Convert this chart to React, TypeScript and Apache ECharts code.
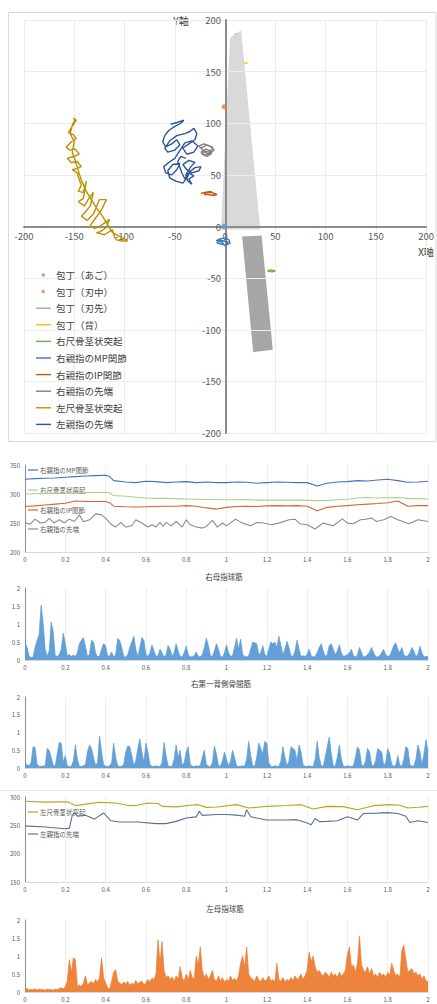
import React, { useEffect, useRef } from "react";
import * as echarts from "echarts";

const FONT = '"Noto Sans CJK JP", "Noto Sans", sans-serif';

// ---------- Top chart: XY trajectories ----------
const knifeHeel = [[-1, 0]];
const knifeMid = [[-1, 116]];
const knifeTip = [[10, 186], [11, 187]];
const knifeBack = [[18, 158], [23, 158.5]];
const rightUlna = [[42, -43], [45, -42], [48, -42.5], [50, -43], [47, -44], [44, -43.5], [42, -43]];
const rightThumbMP = [[-9, -14], [-5, -12], [0, -11], [4, -13], [5, -16], [1, -18], [-4, -17], [-8, -16], [-6, -13], [-1, -14], [3, -15], [0, -19], [-3, -15], [-7, -14]];
const rightThumbIP = [[-24, 32], [-20, 33], [-15, 34], [-11, 32], [-8, 31], [-12, 30], [-17, 31], [-21, 31], [-18, 33], [-13, 33], [-10, 31]];
const rightThumbTip = [[-24, 76], [-18, 79], [-13, 77], [-11, 74], [-15, 71], [-20, 69], [-24, 72], [-19, 75], [-14, 73], [-17, 70], [-22, 74], [-26, 78], [-21, 80], [-16, 78], [-12, 76], [-16, 72], [-20, 73], [-23, 70], [-18, 68], [-13, 71]];
const leftUlna = [[-151, 105], [-148, 103], [-152, 97], [-156, 91], [-151, 89], [-148, 85], [-153, 82], [-158, 77], [-155, 74], [-149, 75], [-145, 70], [-150, 68], [-157, 66], [-153, 62], [-147, 63], [-143, 58], [-148, 56], [-152, 55], [-147, 52], [-146, 48], [-143, 40], [-146, 34], [-141, 33], [-138, 44], [-141, 27], [-146, 24], [-140, 20], [-135, 28], [-131, 33], [-134, 20], [-139, 14], [-143, 10], [-137, 6], [-131, 12], [-125, 26], [-118, 26], [-122, 18], [-125, 13], [-129, 8], [-134, 1], [-130, -2], [-125, 0], [-119, 4], [-115, 7], [-118, -1], [-124, -5], [-128, -6], [-120, -8], [-112, -3], [-110, -10], [-108, -13], [-102, -14], [-97, -14], [-104, -10], [-112, -6], [-117, 2], [-122, 10], [-128, 18], [-133, 26], [-138, 34], [-143, 45], [-146, 54], [-149, 64], [-152, 72], [-150, 82], [-154, 90], [-152, 98], [-149, 104]];
const leftThumbTip = [[-54, 99], [-47, 101], [-41, 103], [-44, 100], [-50, 97], [-56, 93], [-60, 88], [-62, 82], [-59, 77], [-53, 80], [-48, 84], [-45, 79], [-50, 74], [-57, 72], [-60, 76], [-55, 83], [-48, 88], [-40, 90], [-35, 92], [-31, 95], [-28, 90], [-30, 84], [-36, 80], [-42, 76], [-38, 70], [-31, 72], [-27, 78], [-33, 83], [-40, 81], [-46, 72], [-50, 66], [-56, 62], [-61, 58], [-59, 52], [-53, 50], [-48, 55], [-45, 61], [-52, 60], [-57, 54], [-55, 47], [-49, 44], [-42, 42], [-38, 47], [-35, 53], [-30, 57], [-24, 58], [-26, 54], [-33, 52], [-38, 55], [-42, 60], [-36, 64], [-30, 62], [-34, 58], [-39, 50], [-37, 44], [-33, 41], [-36, 46], [-31, 49], [-36, 52], [-40, 46], [-43, 52], [-47, 63], [-44, 68], [-39, 66]];
const bladePolygon = [[5, 183], [16, 190], [35, -3], [-4, -3]];
const handlePolygon = [[17, -9.7], [36.3, -8.7], [47.5, -119.4], [28, -121.7]];

const topLegendNames = ["包丁（あご）", "包丁（刃中）", "包丁（刃先）", "包丁（背）", "右尺骨茎状突起", "右親指のMP関節", "右親指のIP関節", "右親指の先端", "左尺骨茎状突起", "左親指の先端"];

// ---------- Right-hand positions over time (s) ----------
const rMpTime = [0, 0.05, 0.1, 0.15, 0.2, 0.25, 0.3, 0.35, 0.4, 0.42, 0.44, 0.5, 0.55, 0.6, 0.65, 0.7, 0.75, 0.8, 0.85, 0.9, 0.95, 1.0, 1.05, 1.1, 1.15, 1.2, 1.25, 1.3, 1.35, 1.4, 1.45, 1.5, 1.55, 1.6, 1.65, 1.7, 1.75, 1.8, 1.85, 1.9, 1.95, 2.0];
const rMpVals = [325.4, 326.5, 327.1, 327.7, 328.8, 330, 331.1, 331.7, 332.2, 330, 323, 320.8, 319.6, 322, 321.4, 319.6, 320.8, 321.4, 319.6, 320.8, 319.6, 319.6, 320.8, 320.2, 318.5, 319.6, 320.8, 320.2, 319.6, 319.6, 313.9, 318.5, 320.8, 321.4, 323, 322.5, 324.2, 325.4, 323, 320.2, 320.8, 322];
const rUlnaVals = [300, 300.5, 301, 301, 301.5, 302, 302.5, 302.5, 303, 302, 297.5, 296, 294.5, 293, 292.5, 292.5, 292, 291.5, 291, 290.5, 290.5, 290, 290, 290.5, 289.5, 289.5, 289.5, 289.5, 289.5, 289, 288.5, 289, 290, 291, 293, 294, 293, 293.5, 294, 292.5, 292, 291.5];
const rIpVals = [278.4, 279.5, 281, 282.5, 284, 288, 287, 287, 287, 285, 279, 278, 277.5, 278, 278.5, 279, 279, 280, 279, 276, 274, 277, 278.5, 279, 278.5, 279.5, 280, 279.5, 280, 279, 271, 277, 279, 280, 281.5, 282.5, 283.5, 285, 288, 279, 280, 280];
const rTipTime = [0, 0.025, 0.05, 0.075, 0.1, 0.12, 0.145, 0.17, 0.195, 0.22, 0.245, 0.27, 0.29, 0.32, 0.35, 0.38, 0.4, 0.43, 0.45, 0.475, 0.5, 0.53, 0.55, 0.58, 0.61, 0.63, 0.65, 0.67, 0.685, 0.7, 0.725, 0.75, 0.78, 0.8, 0.82, 0.85, 0.88, 0.9, 0.93, 0.955, 0.98, 1.0, 1.045, 1.08, 1.12, 1.15, 1.185, 1.22, 1.26, 1.31, 1.34, 1.365, 1.4, 1.44, 1.46, 1.48, 1.53, 1.575, 1.6, 1.63, 1.665, 1.69, 1.72, 1.745, 1.78, 1.815, 1.85, 1.875, 1.905, 1.95, 2.0];
const rTipVals = [250, 248, 256.6, 250, 251, 258, 250, 255.5, 250.5, 256.6, 252.6, 264, 252, 255.5, 265.8, 264, 258.4, 246.9, 243, 251, 243, 245.2, 255.5, 250, 243, 247, 243, 251, 244, 251, 245, 252.6, 243, 255.5, 247, 243, 241.2, 244, 254.4, 243, 250, 245, 256.6, 249.8, 245.2, 250.9, 250, 246.9, 249.8, 255.5, 256.6, 248.6, 246.9, 239.5, 245.2, 249.8, 245.2, 257.2, 249.8, 248.6, 255.5, 256.6, 258.4, 252.6, 255.5, 261.2, 255.5, 252.6, 248.6, 255.5, 252.6];

// ---------- Left-hand positions over time (s) ----------
const lUlnaTime = [0, 0.1, 0.2, 0.22, 0.25, 0.3, 0.37, 0.45, 0.52, 0.55, 0.61, 0.66, 0.68, 0.75, 0.82, 0.86, 0.9, 0.954, 1.05, 1.11, 1.2, 1.3, 1.37, 1.43, 1.5, 1.58, 1.65, 1.73, 1.81, 1.86, 1.9, 1.95, 2.0];
const lUlnaVals = [292.4, 291, 291.5, 290.5, 284.7, 287.5, 290.6, 289.4, 284.7, 285, 289.4, 288.5, 283.5, 282.5, 285.5, 286.5, 281.7, 282.4, 286.5, 280.6, 283.5, 285, 286.5, 278.8, 283.5, 283, 277.6, 284.7, 286.5, 285.5, 280.6, 282, 283.5];
const lTipTime = [0, 0.1, 0.2, 0.22, 0.235, 0.246, 0.26, 0.3, 0.344, 0.39, 0.426, 0.47, 0.56, 0.65, 0.7, 0.75, 0.8, 0.85, 0.865, 0.88, 0.95, 1.0, 1.05, 1.09, 1.1, 1.12, 1.2, 1.3, 1.35, 1.4, 1.42, 1.44, 1.46, 1.5, 1.55, 1.6, 1.65, 1.68, 1.75, 1.8, 1.85, 1.89, 1.91, 1.95, 2.0];
const lTipVals = [249, 247, 244, 245, 268, 272, 266, 267.6, 261, 271.8, 258, 256, 256, 253, 253, 257, 263, 265, 274.7, 267.6, 269, 269, 268, 266, 277.6, 265, 259.4, 259.4, 260, 254, 251, 262, 256.5, 257, 258, 265, 259.4, 271, 271.5, 272.5, 271, 266, 255, 258, 255];

// ---------- EMG, sampled every 0.01 s from 0 to 2 s ----------
const EMG_STEP = 0.01;
const emgRightThenar = [0.50, 0.35, 0.12, 0.06, 0.08, 0.35, 0.55, 0.70, 1.52, 1.02, 0.30, 0.10, 0.25, 1.05, 0.80, 0.12, 0.10, 0.15, 0.30, 0.75, 0.45, 0.12, 0.15, 0.10, 0.14, 0.10, 0.20, 0.45, 0.55, 0.62, 0.38, 0.10, 0.15, 0.55, 0.50, 0.20, 0.08, 0.12, 0.30, 0.45, 0.40, 0.10, 0.12, 0.22, 0.08, 0.15, 0.60, 0.55, 0.35, 0.10, 0.08, 0.15, 0.35, 0.50, 0.66, 0.30, 0.08, 0.35, 0.62, 0.55, 0.15, 0.10, 0.20, 0.42, 0.25, 0.10, 0.12, 0.30, 0.20, 0.08, 0.15, 0.40, 0.30, 0.10, 0.20, 0.45, 0.25, 0.10, 0.08, 0.20, 0.38, 0.15, 0.08, 0.10, 0.12, 0.22, 0.10, 0.08, 0.15, 0.35, 0.60, 0.40, 0.12, 0.10, 0.25, 0.45, 0.30, 0.10, 0.08, 0.20, 0.42, 0.20, 0.10, 0.12, 0.35, 0.60, 0.30, 0.58, 0.15, 0.10, 0.08, 0.12, 0.30, 0.50, 0.48, 0.45, 0.15, 0.20, 0.40, 0.15, 0.10, 0.30, 0.50, 0.45, 0.50, 0.35, 0.66, 0.40, 0.15, 0.30, 0.52, 0.35, 0.12, 0.10, 0.25, 0.55, 0.30, 0.10, 0.12, 0.10, 0.15, 0.30, 0.12, 0.08, 0.10, 0.20, 0.35, 0.45, 0.25, 0.10, 0.15, 0.40, 0.45, 0.30, 0.15, 0.25, 0.42, 0.20, 0.10, 0.12, 0.15, 0.20, 0.30, 0.12, 0.08, 0.15, 0.35, 0.20, 0.08, 0.10, 0.15, 0.22, 0.35, 0.20, 0.10, 0.08, 0.12, 0.20, 0.30, 0.15, 0.10, 0.12, 0.25, 0.40, 0.48, 0.30, 0.20, 0.35, 0.15, 0.10, 0.12, 0.20, 0.35, 0.25, 0.10, 0.15, 0.38, 0.20, 0.08, 0.10, 0.10];
const emgRightFDI = [0.08, 0.10, 0.06, 0.15, 0.60, 0.58, 0.10, 0.05, 0.04, 0.06, 0.05, 0.55, 0.50, 0.30, 0.08, 0.05, 0.40, 0.72, 0.70, 0.15, 0.35, 0.06, 0.04, 0.05, 0.20, 0.65, 0.25, 0.05, 0.04, 0.06, 0.10, 0.45, 0.65, 0.55, 0.30, 0.08, 0.15, 0.90, 0.45, 0.10, 0.05, 0.04, 0.06, 0.15, 0.70, 0.30, 0.06, 0.04, 0.05, 0.10, 0.45, 0.62, 0.60, 0.35, 0.08, 0.20, 0.55, 0.82, 0.45, 0.15, 0.70, 0.45, 0.10, 0.05, 0.04, 0.06, 0.05, 0.04, 0.15, 0.72, 0.35, 0.06, 0.04, 0.05, 0.25, 0.65, 0.30, 0.50, 0.08, 0.15, 0.45, 0.60, 0.10, 0.05, 0.04, 0.06, 0.05, 0.08, 0.30, 0.50, 0.10, 0.05, 0.04, 0.15, 0.62, 0.40, 0.06, 0.05, 0.20, 0.45, 0.25, 0.05, 0.20, 0.50, 0.30, 0.06, 0.04, 0.05, 0.06, 0.05, 0.25, 0.75, 0.35, 0.06, 0.05, 0.30, 0.70, 0.55, 0.40, 0.75, 0.70, 0.15, 0.05, 0.04, 0.06, 0.05, 0.04, 0.20, 0.60, 0.30, 0.06, 0.20, 0.60, 0.55, 0.50, 0.20, 0.65, 0.45, 0.08, 0.05, 0.04, 0.06, 0.05, 0.04, 0.25, 0.75, 0.30, 0.06, 0.05, 0.30, 0.60, 0.87, 0.40, 0.06, 0.05, 0.30, 0.65, 0.25, 0.05, 0.04, 0.06, 0.05, 0.04, 0.06, 0.30, 0.60, 0.50, 0.10, 0.05, 0.20, 0.55, 0.45, 0.10, 0.05, 0.20, 0.55, 0.50, 0.45, 0.08, 0.15, 0.55, 0.40, 0.10, 0.05, 0.08, 0.35, 0.08, 0.05, 0.25, 0.60, 0.55, 0.10, 0.05, 0.06, 0.25, 0.65, 0.45, 0.08, 0.40, 0.80, 0.45];
const emgLeftThenar = [0.08, 0.10, 0.05, 0.07, 0.06, 0.09, 0.05, 0.08, 0.06, 0.07, 0.05, 0.08, 0.06, 0.07, 0.05, 0.08, 0.06, 0.10, 0.12, 0.08, 0.15, 0.30, 0.90, 0.55, 0.95, 0.90, 0.15, 0.20, 0.15, 0.25, 0.45, 0.20, 0.25, 0.30, 0.22, 0.35, 0.28, 0.40, 0.95, 0.40, 0.25, 0.12, 0.08, 0.30, 0.55, 0.62, 0.30, 0.25, 0.20, 0.28, 0.22, 0.30, 0.18, 0.25, 0.20, 0.32, 0.22, 0.28, 0.30, 0.20, 0.25, 0.35, 0.28, 0.38, 0.35, 0.50, 1.45, 0.80, 1.40, 0.60, 0.40, 0.45, 0.35, 0.42, 0.30, 0.45, 0.35, 0.70, 0.40, 0.30, 0.50, 0.35, 0.60, 0.40, 0.35, 1.00, 0.75, 1.25, 0.60, 0.40, 0.50, 0.35, 0.45, 0.60, 0.35, 0.30, 0.45, 0.30, 0.40, 0.28, 0.35, 0.30, 0.45, 0.32, 0.38, 0.30, 0.45, 0.80, 1.00, 0.70, 1.25, 0.50, 0.40, 0.35, 0.30, 0.45, 0.35, 0.28, 0.40, 0.30, 0.35, 0.45, 0.30, 0.35, 0.28, 0.80, 0.35, 0.30, 0.40, 0.28, 0.35, 0.30, 0.40, 0.32, 0.45, 0.35, 0.40, 0.50, 0.35, 0.45, 0.60, 1.10, 0.85, 1.00, 0.70, 0.55, 0.60, 0.50, 0.45, 0.55, 0.50, 0.40, 0.55, 0.45, 0.50, 0.40, 0.55, 0.45, 0.50, 0.60, 1.05, 1.25, 0.70, 0.75, 0.55, 0.80, 1.55, 0.75, 0.60, 0.55, 0.70, 0.50, 0.65, 0.45, 0.50, 0.40, 0.55, 0.45, 0.50, 0.40, 0.55, 0.45, 0.80, 0.60, 0.45, 0.50, 0.40, 1.15, 1.30, 0.90, 0.55, 0.60, 0.65, 0.50, 0.55, 0.45, 0.50, 0.35, 0.45, 0.30, 0.30];

const zip = (t: number[], v: number[]) => v.map((y, i) => [t[i], y]);
const emgPairs = (v: number[]) => v.map((y, i) => [Number((i * EMG_STEP).toFixed(2)), y]);

const DOT_ICON = "path://M0,0M15,10M9,5A1.8,1.8,0,1,1,5.4,5A1.8,1.8,0,1,1,9,5Z";
const LINE_ICON = "path://M0,0M15,10M0,4.3H15V5.7H0Z";

const C = {
  heel: "#5b9bd5", mid: "#ed7d31", tip: "#a5a5a5", back: "#ffc000",
  rUlna: "#70ad47", rMp: "#3b78c0", rIp: "#c55a11", rTip: "#7f7f7f",
  lUlna: "#bf9000", lTip: "#2f5597",
};

function polygonSeries(name: string, pts: number[][], fill: string) {
  return {
    type: "custom", name, xAxisIndex: 0, yAxisIndex: 0, z: -1, silent: true,
    data: pts,
    renderItem: (params: any, api: any) => params.dataIndex !== 0 ? null : ({
      type: "polygon",
      shape: { points: pts.map((p) => api.coord(p)) },
      style: { fill },
    }),
  };
}

function topLine(name: string, data: number[][], color: string) {
  return { type: "line", name, xAxisIndex: 0, yAxisIndex: 0, data, color, showSymbol: false, symbol: "none", lineStyle: { width: 1.4, color }, z: 3 };
}

function lowerX(gi: number) {
  return {
    type: "value", gridIndex: gi, min: 0, max: 2, interval: 0.2,
    axisLine: { show: true, lineStyle: { color: "#d9d9d9" } },
    axisTick: { show: false },
    axisLabel: { fontSize: 6, color: "#595959", margin: 4, fontFamily: FONT },
    splitLine: { show: true, lineStyle: { color: "#eeeeee" } },
  };
}
function lowerY(gi: number, min: number, max: number, interval: number) {
  return {
    type: "value", gridIndex: gi, min, max, interval,
    axisLine: { show: true, lineStyle: { color: "#8c8c8c" } },
    axisTick: { show: false },
    axisLabel: { fontSize: 6, color: "#595959", margin: 5, fontFamily: FONT },
    splitLine: { show: false },
  };
}
function posLine(name: string, gi: number, data: number[][], color: string) {
  return { type: "line", name, xAxisIndex: gi, yAxisIndex: gi, data, color, showSymbol: false, symbol: "none", lineStyle: { width: 1.1, color } };
}
function emgLine(name: string, gi: number, vals: number[], color: string) {
  return { type: "line", name, xAxisIndex: gi, yAxisIndex: gi, data: emgPairs(vals), color, showSymbol: false, symbol: "none", lineStyle: { width: 0.7, color }, areaStyle: { color, opacity: 0.95 } };
}

function txt(text: string, x: number, y: number, size: number, align = "left", fill = "#404040") {
  return { type: "text", x, y, silent: true, style: { text, fill, fontSize: size, fontFamily: FONT, align, verticalAlign: "middle" } };
}
function seg(x1: number, x2: number, y: number, stroke: string) {
  return { type: "line", silent: true, shape: { x1, y1: y, x2, y2: y }, style: { stroke, lineWidth: 1.2 } };
}

const legendColors: Record<string, string> = {
  "包丁（あご）": C.heel, "包丁（刃中）": C.mid, "包丁（刃先）": C.tip, "包丁（背）": C.back,
  "右尺骨茎状突起": C.rUlna, "右親指のMP関節": C.rMp, "右親指のIP関節": C.rIp, "右親指の先端": C.rTip,
  "左尺骨茎状突起": C.lUlna, "左親指の先端": C.lTip,
};

// top plot area: 404 x 413 px, axes cross at its centre
const TOP_W = 404;
const TOP_H = 413;

const option: any = {
  animation: false,
  textStyle: { fontFamily: FONT },
  grid: [
    { left: 24, top: 20, width: TOP_W, height: TOP_H },
    { left: 25, top: 465, width: 403, height: 87 },
    { left: 25, top: 588, width: 403, height: 72 },
    { left: 25, top: 697, width: 403, height: 71 },
    { left: 25, top: 797, width: 403, height: 85 },
    { left: 25, top: 920, width: 403, height: 72 },
  ],
  xAxis: [
    {
      type: "value", gridIndex: 0, min: -200, max: 200, interval: 50,
      position: "bottom", offset: -TOP_H / 2,
      axisLine: { onZero: false, lineStyle: { color: "#8c8c8c", width: 2 } },
      axisTick: { show: false },
      axisLabel: { fontSize: 9.5, color: "#595959", margin: 5, fontFamily: FONT },
      splitLine: { show: true, lineStyle: { color: "#ececec" } },
    },
    lowerX(1), lowerX(2), lowerX(3), lowerX(4), lowerX(5),
  ],
  yAxis: [
    {
      type: "value", gridIndex: 0, min: -200, max: 200, interval: 50,
      position: "left", offset: -TOP_W / 2,
      axisLine: { onZero: false, lineStyle: { color: "#8c8c8c", width: 2 } },
      axisTick: { show: false },
      axisLabel: { fontSize: 9.5, color: "#595959", margin: 5, fontFamily: FONT },
      splitLine: { show: true, lineStyle: { color: "#ececec" } },
    },
    lowerY(1, 200, 350, 50), lowerY(2, 0, 2, 0.5), lowerY(3, 0, 2, 0.5), lowerY(4, 150, 300, 50), lowerY(5, 0, 2, 0.5),
  ],
  legend: {
    orient: "vertical", left: 31, top: 265, itemWidth: 15, itemHeight: 10, itemGap: 6.6,
    symbolKeepAspect: true,
    textStyle: { fontSize: 9.5, color: "#404040", fontFamily: FONT, lineHeight: 10 },
    itemStyle: { borderWidth: 0 },
    data: topLegendNames.map((n, i) => ({
      name: n,
      icon: i < 2 ? DOT_ICON : LINE_ICON,
      itemStyle: { color: legendColors[n], borderWidth: 0 },
    })),
  },
  series: [
    polygonSeries("blade", bladePolygon, "#d9d9d9"),
    polygonSeries("handle", handlePolygon, "#a6a6a6"),
    topLine("左尺骨茎状突起", leftUlna, C.lUlna),
    topLine("左親指の先端", leftThumbTip, C.lTip),
    topLine("右親指の先端", rightThumbTip, C.rTip),
    topLine("右親指のIP関節", rightThumbIP, C.rIp),
    topLine("右親指のMP関節", rightThumbMP, C.rMp),
    topLine("右尺骨茎状突起", rightUlna, C.rUlna),
    topLine("包丁（背）", knifeBack, C.back),
    topLine("包丁（刃先）", knifeTip, C.tip),
    { type: "scatter", name: "包丁（刃中）", xAxisIndex: 0, yAxisIndex: 0, data: knifeMid, symbolSize: 5, color: C.mid, z: 4 },
    { type: "scatter", name: "包丁（あご）", xAxisIndex: 0, yAxisIndex: 0, data: knifeHeel, symbolSize: 6, color: C.heel, z: 4 },

    posLine("右親指のMP関節 ", 1, zip(rMpTime, rMpVals), "#4472c4"),
    posLine("右尺骨茎状突起 ", 1, zip(rMpTime, rUlnaVals), "#a9d18e"),
    posLine("右親指のIP関節 ", 1, zip(rMpTime, rIpVals), "#d9652b"),
    posLine("右親指の先端 ", 1, zip(rTipTime, rTipVals), "#8c8c8c"),

    emgLine("右母指球筋", 2, emgRightThenar, "#5b9bd5"),
    emgLine("右第一背側骨間筋", 3, emgRightFDI, "#5b9bd5"),

    posLine("左尺骨茎状突起 ", 4, zip(lUlnaTime, lUlnaVals), "#bfa21b"),
    posLine("左親指の先端 ", 4, zip(lTipTime, lTipVals), "#5b6e99"),

    emgLine("左母指球筋", 5, emgLeftThenar, "#ed7d31"),
  ],
  graphic: [
    { type: "rect", silent: true, z: -10, shape: { x: 8.5, y: 12.5, width: 427.5, height: 429 }, style: { fill: "none", stroke: "#d9d9d9", lineWidth: 1 } },
    txt("Y軸", 181, 20, 10, "center"),
    txt("X軸", 426, 251, 10, "center"),
    seg(28, 38, 470, "#4472c4"), txt("右親指のMP関節", 40, 470, 6.5, "left", "#595959"),
    seg(28, 38, 490, "#a9d18e"), txt("右尺骨茎状突起", 40, 490, 6.5, "left", "#595959"),
    seg(28, 38, 510, "#d9652b"), txt("右親指のIP関節", 40, 510, 6.5, "left", "#595959"),
    seg(28, 38, 529, "#8c8c8c"), txt("右親指の先端", 40, 529, 6.5, "left", "#595959"),
    txt("右母指球筋", 224, 576, 7.5, "center"),
    txt("右第一背側骨間筋", 221, 683, 7.5, "center"),
    { type: "line", silent: true, shape: { x1: 0, y1: 790.5, x2: 437, y2: 790.5 }, style: { stroke: "#e3e3e3", lineWidth: 1 } },
    seg(28, 38, 812, "#bfa21b"), txt("左尺骨茎状突起", 40, 812, 6.5, "left", "#595959"),
    seg(28, 38, 834, "#5b6e99"), txt("左親指の先端", 40, 834, 6.5, "left", "#595959"),
    txt("左母指球筋", 225, 908, 7.5, "center"),
  ],
};

export default function App() {
  const ref = useRef<HTMLDivElement>(null);
  useEffect(() => {
    if (!ref.current) return;
    const chart = echarts.init(ref.current, undefined, { renderer: "svg" });
    chart.setOption(option);
    return () => chart.dispose();
  }, []);
  return <div ref={ref} style={{ position: "absolute", left: 0, top: 0, width: 437, height: 1004, background: "#fff" }} />;
}
